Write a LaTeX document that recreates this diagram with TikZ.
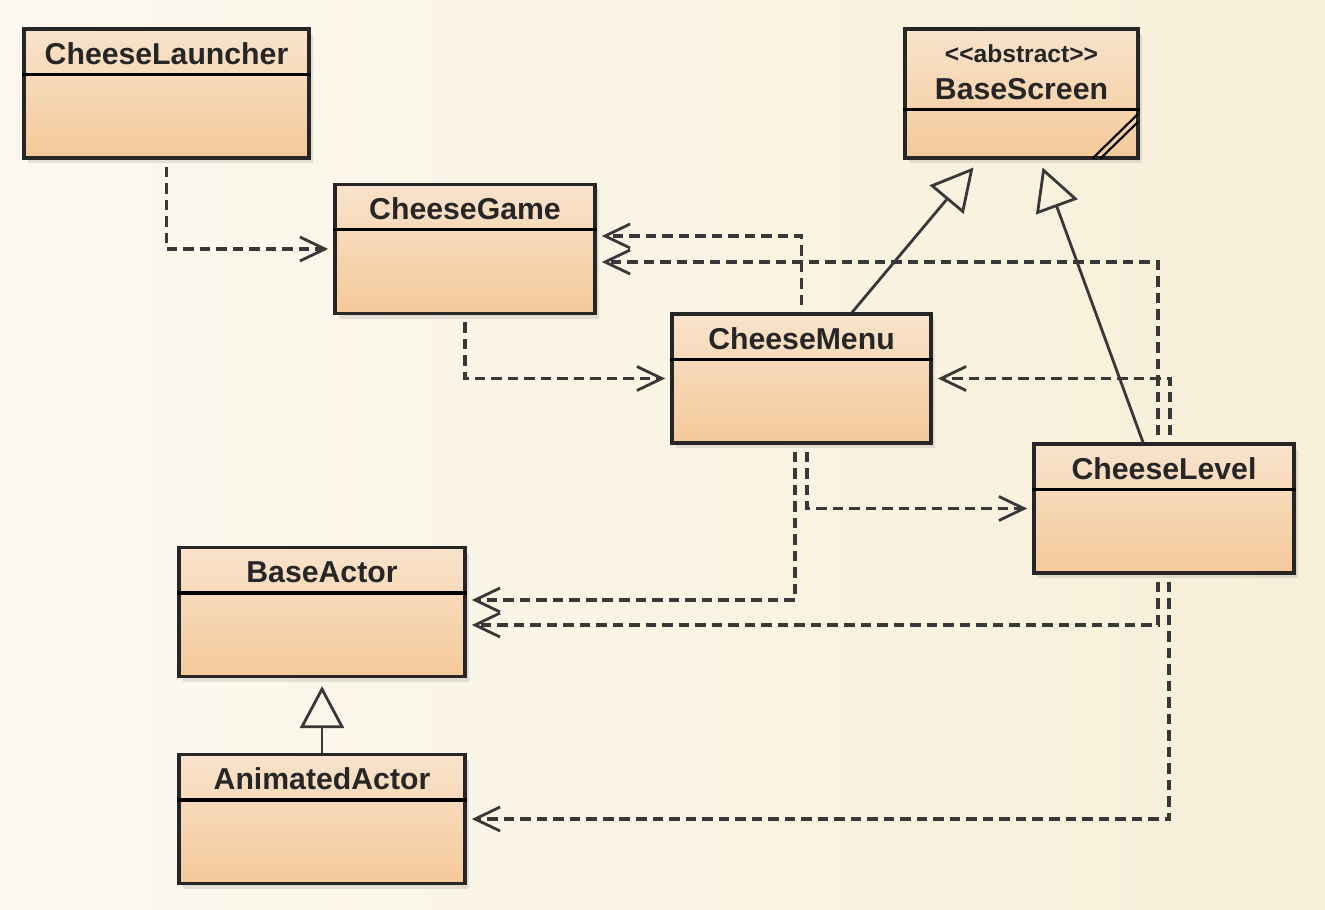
\documentclass[tikz,border=0pt]{standalone}
\usepackage{fontspec}
\setmainfont{Liberation Sans}
\usetikzlibrary{arrows.meta,calc,shadows}
\definecolor{boxtop}{HTML}{F9E3CC}
\definecolor{boxbot}{HTML}{F4C99A}
\definecolor{linegray}{HTML}{383838}
\definecolor{paper}{HTML}{F7EFD8}

\begin{document}
\begin{tikzpicture}[x=0.1mm,y=-0.1mm,
    class/.style={draw=black!85,line width=0.9pt,top color=boxtop,bottom
      color=boxbot,minimum height=12.9mm,inner sep=0pt,drop
      shadow={opacity=0.2,shadow xshift=0.4mm,shadow yshift=-0.5mm}},
    title/.style={font=\bfseries\fontsize{8.6}{10}\selectfont,text=black!85,inner sep=0pt},
    dep/.style={draw=linegray,line width=0.95pt,dash pattern=on 3pt off 1.7pt,
      -{Straight Barb[length=2.5mm,width=2.4mm,line width=0.8pt]},shorten <=2pt,shorten >=1.5pt},
    inh/.style={draw=linegray,line width=0.8pt,
      -{Triangle[open,length=4.2mm,width=4.4mm,line width=0.8pt]}}]

    % the background
    \fill[left color=white!60!paper,right color=paper] (0,0) rectangle (1325,909);

    % the classes
    \node[class,minimum width=28.5mm] (launcher) at (166.5,93.5) {};
    \node[class,minimum width=26mm] (game) at (465,249) {};
    \node[class,minimum width=23.3mm,line width=1.4pt] (screen) at (1021.5,93.5) {};
    \node[class,minimum width=25.9mm] (menu) at (801.5,378.5) {};
    \node[class,minimum width=26mm] (level) at (1164,508.5) {};
    \node[class,minimum width=28.6mm] (actor) at (322,612) {};
    \node[class,minimum width=28.6mm] (animated) at (322,819) {};

    % the texts
    \foreach \n/\t in {launcher/CheeseLauncher,game/CheeseGame,menu/CheeseMenu,
      level/CheeseLevel,actor/BaseActor,animated/AnimatedActor}{
      \node[title] (\n-t) at ($(\n.north)+(0,26)$) {\t};
      \draw[line width=0.9pt] ($(\n.north west)+(0,47)$) -- ($(\n.north east)+(0,47)$);
    }
    \node[title,font=\bfseries\fontsize{7}{8}\selectfont] (screen-s) at
      ($(screen.north)+(0,27)$) {<\kern0pt<abstract>\kern0pt>};
    \node[title] (screen-t) at ($(screen.north)+(0,63)$) {BaseScreen};
    \draw[line width=0.9pt] ($(screen.north west)+(0,83)$) -- ($(screen.north east)+(0,83)$);
    \draw[line width=0.6pt] ($(screen.south east)+(-3,-46)$) -- ($(screen.south east)+(-48,-2)$);
    \draw[line width=0.6pt] ($(screen.south east)+(-3,-38)$) -- ($(screen.south east)+(-40,-2)$);

    % dependencies
    \draw[dep] (launcher.south) |- (game.west);
    \draw[dep] (game.south) |- (menu.west);
    \draw[dep] (menu.north) |- ($(game.east)+(0,-13)$);
    \draw[dep] ($(level.north)+(-6,0)$) |- ($(game.east)+(0,13)$);
    \draw[dep] ($(level.north)+(6,0)$) |- (menu.east);
    \draw[dep] ($(menu.south)+(5.5,0)$) |- (level.west);
    \draw[dep] ($(menu.south)+(-6.5,0)$) |- ($(actor.east)+(0,-12)$);
    \draw[dep] ($(level.south)+(-6,0)$) |- ($(actor.east)+(0,13)$);
    \draw[dep] ($(level.south)+(5,0)$) |- (animated.east);

    % generalisations
    \draw[inh] ($(menu.north)+(50.5,0)$) -- ($(screen.south)+(-48,7)$);
    \draw[inh] ($(level.north)+(-21,0)$) -- ($(screen.south)+(21,7)$);
    \draw[inh] (animated.north) -- ($(actor.south)+(0,8)$);

  \end{tikzpicture}
\end{document}
